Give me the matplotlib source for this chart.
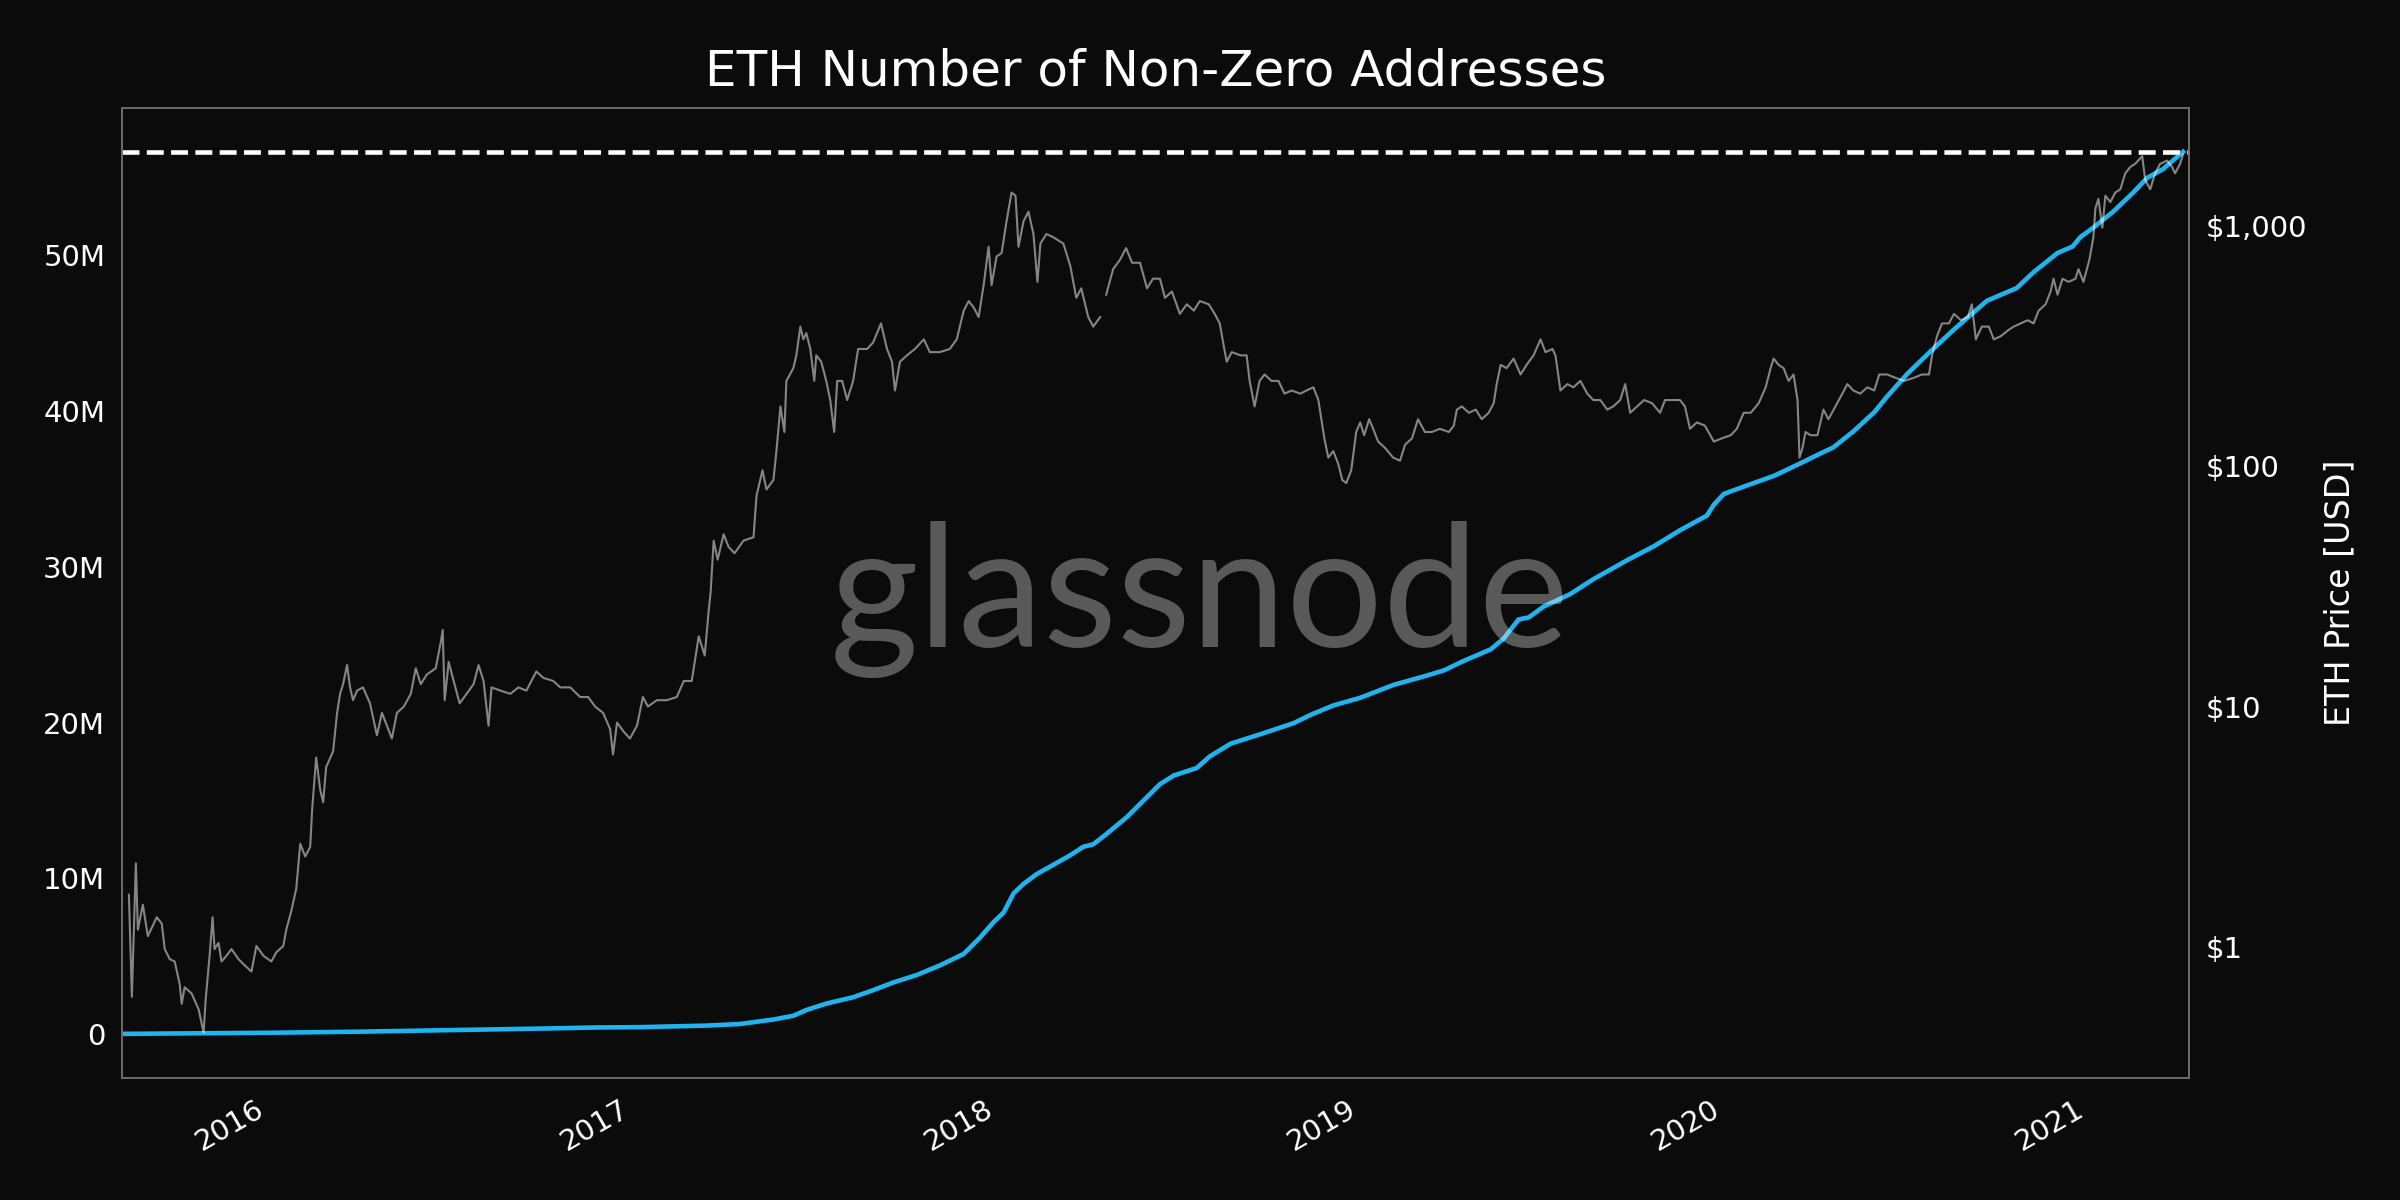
import numpy as np
import pandas as pd
import matplotlib
matplotlib.use("Agg")
import matplotlib.pyplot as plt
import matplotlib.dates as mdates
from matplotlib.ticker import FixedLocator, NullLocator, FuncFormatter

# ETH price (USD)
price_dates = [
    "2015-08-13", "2015-08-16", "2015-08-20", "2015-08-22", "2015-08-27", "2015-09-01", "2015-09-10",
    "2015-09-15", "2015-09-18", "2015-09-23", "2015-09-28", "2015-10-03", "2015-10-05", "2015-10-08",
    "2015-10-15", "2015-10-22", "2015-10-27", "2015-10-29", "2015-11-02", "2015-11-05", "2015-11-07",
    "2015-11-11", "2015-11-14", "2015-11-19", "2015-11-24", "2015-12-01", "2015-12-07", "2015-12-14",
    "2015-12-19", "2015-12-26", "2016-01-03", "2016-01-08", "2016-01-15", "2016-01-18", "2016-01-23",
    "2016-01-28", "2016-02-01", "2016-02-06", "2016-02-11", "2016-02-13", "2016-02-17", "2016-02-21",
    "2016-02-24", "2016-02-27", "2016-03-05", "2016-03-09", "2016-03-12", "2016-03-15", "2016-03-19",
    "2016-03-22", "2016-03-25", "2016-03-29", "2016-04-04", "2016-04-11", "2016-04-18", "2016-04-23",
    "2016-04-28", "2016-05-03", "2016-05-08", "2016-05-15", "2016-05-22", "2016-05-27", "2016-06-01",
    "2016-06-07", "2016-06-16", "2016-06-21", "2016-06-23", "2016-06-25", "2016-06-29", "2016-07-04",
    "2016-07-10", "2016-07-17", "2016-07-24", "2016-07-29", "2016-08-03", "2016-08-08", "2016-08-11",
    "2016-08-20", "2016-08-30", "2016-09-07", "2016-09-15", "2016-09-25", "2016-10-02", "2016-10-12",
    "2016-10-19", "2016-10-29", "2016-11-08", "2016-11-16", "2016-11-23", "2016-12-01", "2016-12-08",
    "2016-12-11", "2016-12-15", "2016-12-22", "2016-12-28", "2017-01-04", "2017-01-10", "2017-01-15",
    "2017-01-24", "2017-02-03", "2017-02-13", "2017-02-20", "2017-02-28", "2017-03-07", "2017-03-13",
    "2017-03-17", "2017-03-19", "2017-03-22", "2017-03-26", "2017-04-01", "2017-04-06", "2017-04-12",
    "2017-04-21", "2017-05-01", "2017-05-04", "2017-05-10", "2017-05-14", "2017-05-21", "2017-05-24",
    "2017-05-28", "2017-06-01", "2017-06-03", "2017-06-10", "2017-06-13", "2017-06-17", "2017-06-20",
    "2017-06-23", "2017-06-27", "2017-07-01", "2017-07-03", "2017-07-08", "2017-07-13", "2017-07-17",
    "2017-07-21", "2017-07-24", "2017-07-29", "2017-08-03", "2017-08-09", "2017-08-14", "2017-08-23",
    "2017-08-29", "2017-09-06", "2017-09-12", "2017-09-17", "2017-09-20", "2017-09-25", "2017-10-02",
    "2017-10-10", "2017-10-19", "2017-10-25", "2017-11-04", "2017-11-14", "2017-11-21", "2017-11-28",
    "2017-12-03", "2017-12-08", "2017-12-13", "2017-12-18", "2017-12-23", "2017-12-26", "2017-12-31",
    "2018-01-05", "2018-01-10", "2018-01-15", "2018-01-19", "2018-01-22", "2018-01-27", "2018-02-01",
    "2018-02-06", "2018-02-10", "2018-02-13", "2018-02-19", "2018-02-26", "2018-03-08", "2018-03-15",
    "2018-03-21", "2018-03-26", "2018-04-02", "2018-04-07", "2018-04-14", "2018-04-17", "2018-04-20",
    "2018-04-27", "2018-05-04", "2018-05-10", "2018-05-16", "2018-05-24", "2018-05-31", "2018-06-06",
    "2018-06-13", "2018-06-18", "2018-06-25", "2018-07-03", "2018-07-10", "2018-07-17", "2018-07-23",
    "2018-08-01", "2018-08-07", "2018-08-12", "2018-08-16", "2018-08-19", "2018-08-24", "2018-09-02",
    "2018-09-08", "2018-09-11", "2018-09-16", "2018-09-21", "2018-09-26", "2018-10-03", "2018-10-10",
    "2018-10-16", "2018-10-23", "2018-11-01", "2018-11-07", "2018-11-14", "2018-11-19", "2018-11-22",
    "2018-11-25", "2018-11-29", "2018-12-04", "2018-12-09", "2018-12-13", "2018-12-17", "2018-12-22",
    "2018-12-27", "2018-12-31", "2019-01-04", "2019-01-09", "2019-01-13", "2019-01-18", "2019-01-25",
    "2019-02-02", "2019-02-09", "2019-02-14", "2019-02-21", "2019-02-27", "2019-03-06", "2019-03-13",
    "2019-03-21", "2019-03-30", "2019-04-04", "2019-04-07", "2019-04-12", "2019-04-19", "2019-04-26",
    "2019-05-02", "2019-05-09", "2019-05-14", "2019-05-17", "2019-05-21", "2019-05-27", "2019-06-03",
    "2019-06-10", "2019-06-16", "2019-06-23", "2019-06-30", "2019-07-05", "2019-07-12", "2019-07-15",
    "2019-07-20", "2019-07-27", "2019-08-02", "2019-08-09", "2019-08-16", "2019-08-22", "2019-08-29",
    "2019-09-05", "2019-09-11", "2019-09-18", "2019-09-23", "2019-09-28", "2019-10-05", "2019-10-12",
    "2019-10-20", "2019-10-28", "2019-11-02", "2019-11-11", "2019-11-17", "2019-11-22", "2019-11-27",
    "2019-12-04", "2019-12-12", "2019-12-21", "2019-12-29", "2020-01-07", "2020-01-13", "2020-01-20",
    "2020-01-27", "2020-02-04", "2020-02-11", "2020-02-16", "2020-02-19", "2020-02-24", "2020-02-29",
    "2020-03-05", "2020-03-10", "2020-03-14", "2020-03-16", "2020-03-19", "2020-03-22", "2020-03-27",
    "2020-04-03", "2020-04-09", "2020-04-14", "2020-04-21", "2020-04-28", "2020-05-03", "2020-05-09",
    "2020-05-16", "2020-05-23", "2020-05-30", "2020-06-04", "2020-06-12", "2020-06-20", "2020-06-29",
    "2020-07-09", "2020-07-17", "2020-07-24", "2020-07-27", "2020-08-01", "2020-08-06", "2020-08-13",
    "2020-08-18", "2020-08-25", "2020-09-01", "2020-09-05", "2020-09-09", "2020-09-15", "2020-09-22",
    "2020-09-27", "2020-10-04", "2020-10-12", "2020-10-17", "2020-10-24", "2020-10-31", "2020-11-06",
    "2020-11-11", "2020-11-18", "2020-11-23", "2020-11-26", "2020-11-30", "2020-12-05", "2020-12-11",
    "2020-12-18", "2020-12-21", "2020-12-26", "2021-01-01", "2021-01-05", "2021-01-07", "2021-01-10",
    "2021-01-14", "2021-01-17", "2021-01-22", "2021-01-27", "2021-02-01", "2021-02-06", "2021-02-11",
    "2021-02-16", "2021-02-23", "2021-02-26", "2021-03-03", "2021-03-08", "2021-03-13", "2021-03-20",
    "2021-03-25", "2021-03-28", "2021-04-02", "2021-04-05",
]
price_usd = [
    1.65, 0.62, 2.23, 1.18, 1.50, 1.11, 1.33,
    1.25, 0.98, 0.89, 0.87, 0.70, 0.58, 0.68,
    0.64, 0.55, 0.44, 0.60, 0.92, 1.33, 0.98,
    1.04, 0.87, 0.92, 0.98, 0.89, 0.84, 0.79,
    1.01, 0.92, 0.87, 0.95, 1.01, 1.18, 1.41,
    1.75, 2.69, 2.38, 2.61, 3.76, 6.14, 4.52,
    4.00, 5.60, 6.52, 9.42, 11.31, 12.40, 14.90,
    12.03, 10.64, 11.66, 12.03, 10.32, 7.60, 9.42,
    8.33, 7.37, 9.42, 10.01, 11.31, 14.45, 12.40,
    13.60, 14.45, 18.46, 20.86, 10.64, 15.36, 12.79,
    10.32, 11.31, 12.40, 14.90, 12.79, 8.33, 12.03,
    11.66, 11.31, 12.03, 11.66, 14.01, 13.18, 12.79,
    12.03, 12.03, 10.97, 10.97, 10.01, 9.42, 8.08,
    6.32, 8.59, 7.84, 7.37, 8.33, 10.97, 10.01,
    10.64, 10.64, 10.97, 12.79, 12.79, 19.62, 16.33,
    25.06, 30.1, 49.1, 40.9, 52.2, 46.2, 43.5,
    49.1, 50.7, 75.4, 96.3, 80.1, 87.8, 115.7,
    177.6, 139.0, 226.8, 256.4, 289.7, 381.6, 337.7,
    358.9, 308.0, 226.8, 289.7, 272.5, 226.8, 188.8,
    139.0, 226.8, 226.8, 188.8, 226.8, 308.0, 308.0,
    327.4, 393.4, 308.0, 272.5, 206.9, 272.5, 289.7,
    308.0, 337.7, 298.8, 298.8, 308.0, 337.7, 444.6,
    487.5, 458.5, 418.3, 567.9, 820.0, 567.9, 747.9,
    771.3, 1047, 1379, 1338, 820, 1047, 1148,
    927, 585.6, 845.5, 927, 898.6, 845.5, 682.3,
    502.8, 550.8, 418.3, 381.6, 418.3, np.nan, 518.2,
    662, 725.5, 810, 703.7, 703.7, 550.8, 603.9,
    603.9, 502.8, 534.2, 431.1, 472.6, 444.6, 487.5,
    472.6, 431.1, 393.4, 317.7, 272.5, 298.8, 289.7,
    289.7, 226.8, 177.6, 226.8, 241.2, 226.8, 226.8,
    200.7, 206.9, 200.7, 206.9, 213.3, 188.8, 157.1,
    130.8, 108.8, 115.7, 102.4, 87.8, 85.2, 96.3,
    139.0, 152.4, 134.8, 157.1, 143.3, 126.8, 119.3,
    108.8, 105.6, 123.0, 130.8, 157.1, 139.0, 139.0,
    143.3, 139.0, 147.8, 172.3, 177.6, 167.1, 172.3,
    157.1, 167.1, 183.1, 220.0, 264.3, 256.4, 281.0,
    241.2, 264.3, 289.7, 337.7, 298.8, 308.0, 289.7,
    206.9, 220.0, 213.3, 226.8, 200.7, 188.8, 188.8,
    172.3, 177.6, 188.8, 220.0, 167.1, 177.6, 188.8,
    183.1, 167.1, 188.8, 188.8, 188.8, 177.6, 143.3,
    152.4, 147.8, 126.8, 130.8, 134.8, 143.3, 167.1,
    167.1, 183.1, 213.3, 256.4, 281.0, 264.3, 256.4,
    226.8, 241.2, 188.8, 108.8, 119.3, 139.0, 134.8,
    134.8, 172.3, 157.1, 177.6, 200.7, 220.0, 206.9,
    200.7, 213.3, 206.9, 241.2, 241.2, 233.9, 226.8,
    233.9, 241.2, 241.2, 289.7, 348.1, 393.4, 393.4,
    431.1, 405.7, 418.3, 472.6, 337.7, 381.6, 381.6,
    337.7, 348.1, 370.1, 381.6, 393.4, 405.7, 393.4,
    444.6, 472.6, 534.2, 603.9, 518.2, 603.9, 585.6,
    603.9, 662, 585.6, 725.5, 898.6, 1183.5, 1297.6,
    985.2, 1338, 1258.6, 1379, 1422, 1657.6, 1762,
    1816, 1955, 1558.6, 1422, 1657.6, 1816, 1873,
    1762, 1657.6, 1816, 1991,
]

# number of non-zero addresses (millions)
addr_dates = [
    "2015-08-06", "2016-01-01", "2016-04-01", "2016-07-01", "2016-10-01", "2016-11-25", "2017-01-07",
    "2017-03-15", "2017-04-17", "2017-05-21", "2017-06-10", "2017-06-23", "2017-07-13", "2017-08-09",
    "2017-08-29", "2017-09-18", "2017-10-12", "2017-11-04", "2017-11-28", "2017-12-14", "2017-12-28",
    "2018-01-07", "2018-01-17", "2018-01-27", "2018-02-09", "2018-02-26", "2018-03-15", "2018-03-28",
    "2018-04-07", "2018-04-20", "2018-05-11", "2018-05-27", "2018-06-13", "2018-06-27", "2018-07-20",
    "2018-08-02", "2018-08-23", "2018-09-22", "2018-10-25", "2018-11-11", "2018-12-04", "2018-12-31",
    "2019-02-02", "2019-03-08", "2019-03-25", "2019-04-14", "2019-05-11", "2019-05-24", "2019-06-08",
    "2019-06-18", "2019-07-03", "2019-07-30", "2019-08-22", "2019-09-25", "2019-10-22", "2019-11-17",
    "2019-12-14", "2019-12-21", "2019-12-31", "2020-01-23", "2020-02-19", "2020-03-17", "2020-03-30",
    "2020-04-19", "2020-05-09", "2020-05-30", "2020-06-12", "2020-07-02", "2020-07-25", "2020-08-18",
    "2020-09-20", "2020-10-20", "2020-11-06", "2020-11-30", "2020-12-15", "2020-12-23", "2021-01-05",
    "2021-01-25", "2021-02-14", "2021-02-28", "2021-03-16", "2021-04-05",
]
addr_m = [
    0.03, 0.10, 0.17, 0.27, 0.37, 0.44, 0.46,
    0.56, 0.66, 0.95, 1.19, 1.56, 1.97, 2.38,
    2.83, 3.32, 3.81, 4.42, 5.16, 6.18, 7.20,
    7.81, 9.04, 9.65, 10.27, 10.88, 11.49, 12.03,
    12.19, 12.84, 13.95, 14.97, 16.05, 16.61, 17.09,
    17.83, 18.65, 19.26, 19.96, 20.49, 21.10, 21.59,
    22.41, 23.02, 23.35, 23.96, 24.70, 25.39, 26.62,
    26.74, 27.44, 28.25, 29.20, 30.42, 31.32, 32.34,
    33.28, 33.98, 34.67, 35.21, 35.82, 36.64, 37.05,
    37.66, 38.68, 39.91, 40.93, 42.36, 43.79, 45.22,
    47.06, 47.88, 48.90, 50.13, 50.54, 51.15, 51.76,
    52.79, 54.01, 54.95, 55.52, 56.62,
]

addr_ticks = [0, 10, 20, 30, 40, 50]
price_ticks = [1, 10, 100, 1000]

BG = "#0b0b0b"
BLUE = "#1eb4ef"
SPINE = "#6a6a6a"

price = pd.Series(price_usd, index=pd.to_datetime(price_dates))
addr = pd.Series(addr_m, index=pd.to_datetime(addr_dates))

fig = plt.figure(figsize=(16, 8), dpi=150, facecolor=BG)
ax = fig.add_axes([0.0508, 0.1017, 0.8613, 0.8083])
ax.set_facecolor(BG)

ax.plot(addr.index, addr.values, color=BLUE, lw=2.2, zorder=2)
ax.axhline(addr.max(), color="white", ls="--", lw=2.2, zorder=3)
ax.set_ylim(-2.8, 59.43)
ax.set_xlim(pd.Timestamp("2015-08-06"), pd.Timestamp("2021-04-11"))
ax.yaxis.set_major_locator(FixedLocator(addr_ticks))
ax.yaxis.set_major_formatter(FuncFormatter(lambda v, p: "0" if v == 0 else f"{v:.0f}M"))

ax2 = ax.twinx()
ax2.plot(price.index, price.values, color="white", alpha=0.5, lw=1.0, zorder=4)
ax2.set_yscale("log")
ax2.set_ylim(0.285, 3100)
ax2.yaxis.set_major_locator(FixedLocator(price_ticks))
ax2.yaxis.set_minor_locator(NullLocator())
ax2.yaxis.set_major_formatter(FuncFormatter(lambda v, p: f"${v:,.0f}"))
ax2.set_ylabel("ETH Price [USD]", color="white", fontsize=16, labelpad=8)

ax.xaxis.set_major_locator(mdates.YearLocator())
ax.xaxis.set_major_formatter(mdates.DateFormatter("%Y"))

for a in (ax, ax2):
    a.tick_params(length=0, colors="white", labelsize=14, pad=8)
    for s in a.spines.values():
        s.set_color(SPINE)
        s.set_linewidth(0.9)

for lbl in ax.get_xticklabels():
    lbl.set_rotation(30)
    lbl.set_ha("right")

ax.set_title("ETH Number of Non-Zero Addresses", color="white", fontsize=24, pad=11)

# watermark
fig.text(0.5, 0.5, "glassnode", color="white", alpha=0.32, fontsize=82,
         family="Lato", ha="center", va="center", zorder=10)

fig.savefig("out.png", dpi=150, facecolor=BG)
